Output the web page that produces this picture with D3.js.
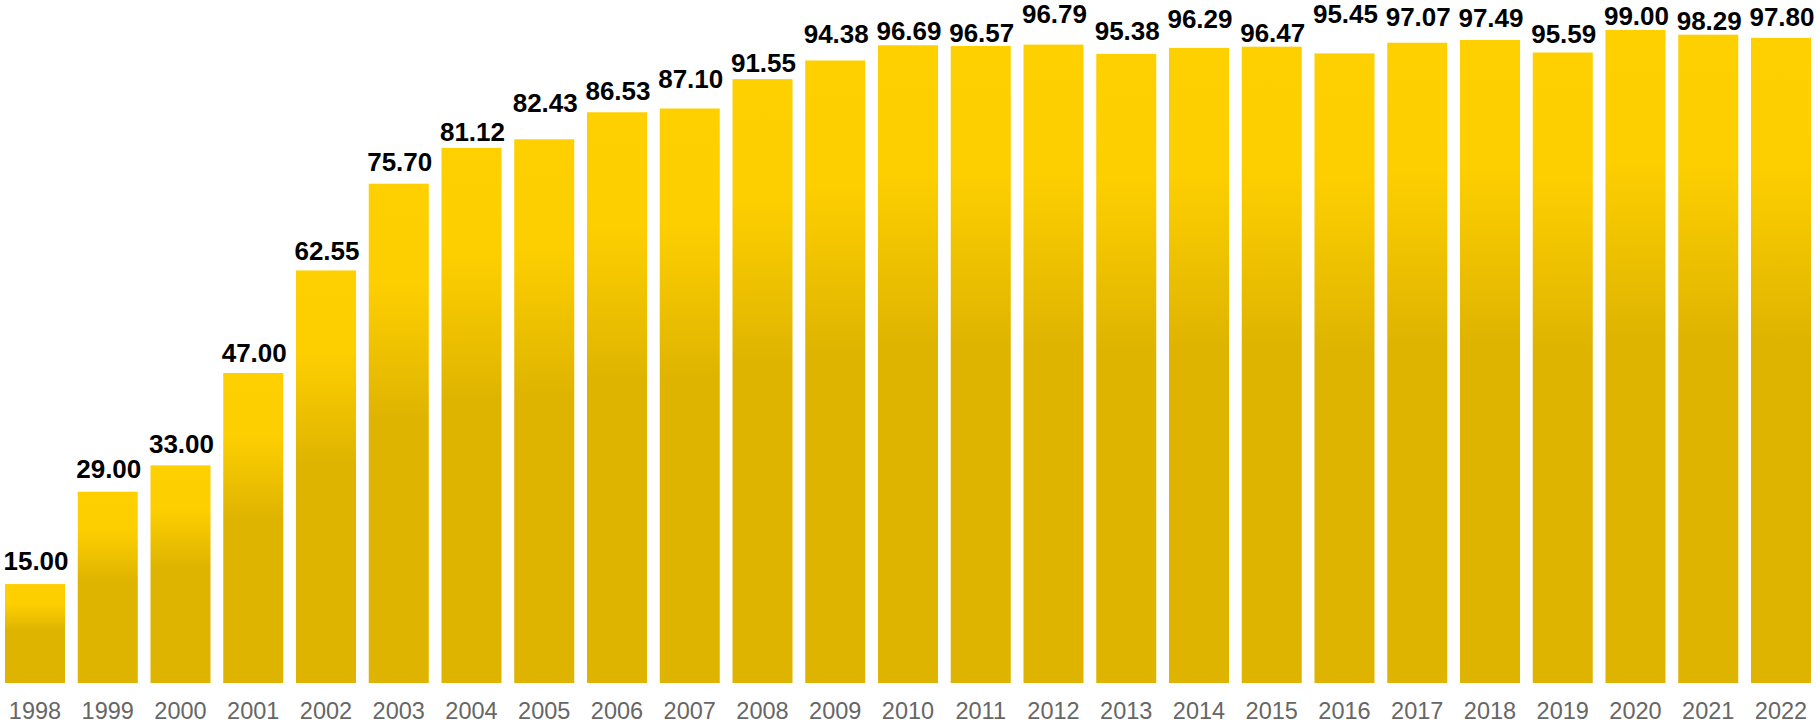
<!DOCTYPE html>
<html lang="en">
<head>
    <meta charset="UTF-8">
    <title>Yearly values 1998-2022</title>
    <style>
        html, body { margin: 0; padding: 0; background: #fff; }
        .year-axis text { font-family: "Liberation Sans", Arial, sans-serif; font-size: 23.5px; fill: #666; }
        .value-label { font-family: "Liberation Sans", Arial, sans-serif; font-size: 26px; font-weight: bold; fill: #000; }
    </style>
</head>
<body>
    <div id="chart"></div>

    <script src="https://d3js.org/d3.v7.min.js"></script>
    <script type="text/javascript">
const years = ["1998", "1999", "2000", "2001", "2002", "2003", "2004", "2005", "2006", "2007",
    "2008", "2009", "2010", "2011", "2012", "2013", "2014", "2015", "2016", "2017",
    "2018", "2019", "2020", "2021", "2022"];
const values = [15.00, 29.00, 33.00, 47.00, 62.55, 75.70, 81.12, 82.43, 86.53, 87.10,
    91.55, 94.38, 96.69, 96.57, 96.79, 95.38, 96.29, 96.47, 95.45, 97.07,
    97.49, 95.59, 99.00, 98.29, 97.80];

// gap (px) between bar top and label baseline; the original chart staggers them
const labelLift = [14, 14, 12, 11, 10, 13, 7, 27, 12, 20,
    7, 17, 5, 4, 22, 14, 20, 5, 30, 17,
    13, 9, 5, 5, 12];

const width = 1816;
const height = 724;
const baseY = 683;

const data = years.map(function(y, i) { return { year: y, value: values[i], lift: labelLift[i] }; });

const svg = d3.select("#chart")
    .append("svg")
    .attr("width", width)
    .attr("height", height);

// vertical gold gradient, same shape for every bar
const grad = svg.append("defs").append("linearGradient")
    .attr("id", "barFill")
    .attr("x1", 0).attr("y1", 0)
    .attr("x2", 0).attr("y2", 1);
grad.append("stop").attr("offset", "0").attr("stop-color", "#FFD000");
grad.append("stop").attr("offset", "0.2").attr("stop-color", "#FDCF00");
grad.append("stop").attr("offset", "0.47").attr("stop-color", "#DFB400");
grad.append("stop").attr("offset", "1").attr("stop-color", "#DFB400");

const xScale = d3.scaleBand()
    .domain(years)
    .range([5, 1811])
    .paddingInner(0.175)
    .paddingOuter(0);

const yScale = d3.scaleLinear()
    .domain([0, 100])
    .range([baseY, baseY - 659.6]);

svg.selectAll(".bar")
    .data(data)
    .enter()
    .append("rect")
    .attr("class", "bar")
    .attr("x", function(d) { return xScale(d.year); })
    .attr("y", function(d) { return yScale(d.value); })
    .attr("width", xScale.bandwidth())
    .attr("height", function(d) { return baseY - yScale(d.value); })
    .attr("fill", "url(#barFill)");

svg.selectAll(".value-label")
    .data(data)
    .enter()
    .append("text")
    .attr("class", "value-label")
    .attr("x", function(d) { return xScale(d.year) + xScale.bandwidth() / 2 + 1; })
    .attr("y", function(d) { return yScale(d.value) - d.lift; })
    .attr("text-anchor", "middle")
    .text(function(d) { return d.value.toFixed(2); });

const xAxis = svg.append("g")
    .attr("class", "year-axis")
    .attr("transform", `translate(0, ${baseY})`)
    .call(d3.axisBottom(xScale).tickSize(0).tickPadding(19));

xAxis.select(".domain").remove();
    </script>
</body>
</html>
